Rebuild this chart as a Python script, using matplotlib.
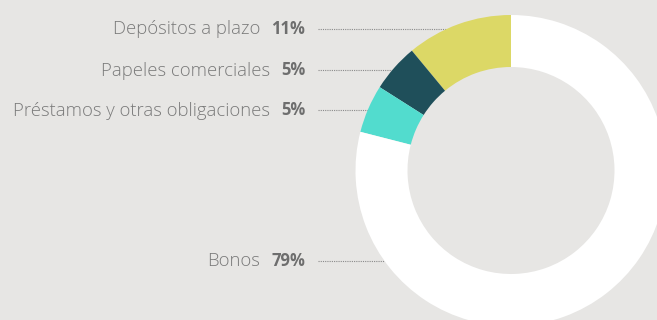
import numpy as np
import matplotlib.pyplot as plt

# Portfolio composition
categories = ["Depósitos a plazo", "Papeles comerciales",
              "Préstamos y otras obligaciones", "Bonos"]
shares = [11, 5, 5, 79]
colors = ["#dcd866", "#1f4f5a", "#52dcce", "#ffffff"]

BG = "#e7e6e4"
W, H = 657, 320

fig = plt.figure(figsize=(W / 100, H / 100), dpi=100, facecolor=BG)
ax = fig.add_axes([0, 0, 1, 1])
ax.set_facecolor(BG)

# donut in pixel coordinates (y measured upward)
cx, cy = 511, H - 170.5
r_out, ring = 155.5, 52
ax.pie(shares, colors=colors, startangle=90, counterclock=True,
       center=(cx, cy), radius=r_out,
       wedgeprops=dict(width=ring, linewidth=0))

ax.set_xlim(0, W)
ax.set_ylim(0, H)
ax.set_aspect("equal")
ax.axis("off")

# label rows (pixel rows from top)
label_rows = [29, 70, 110, 261]
text_right = 305
line_start = 318

fig.canvas.draw()
renderer = fig.canvas.get_renderer()
for name, pct, row in zip(categories, shares, label_rows):
    y = H - row
    t = ax.text(text_right, y, f"{pct}%", ha="right", va="center",
                fontsize=12, fontweight="bold", color="#6e6e6e",
                family="Open Sans")
    bb = t.get_window_extent(renderer)
    ax.text(bb.x0 - 11, y - 0.5, name, ha="right", va="center",
            fontsize=13.3, fontweight="light", color="#7a7a7a",
            family="Open Sans")
    # dotted leader to the outer edge of the ring
    dy = y - cy
    x_end = cx - np.sqrt(r_out ** 2 - dy ** 2)
    ax.plot([line_start, x_end], [y, y], color="#8a8a8a",
            linewidth=0.8, linestyle=(0, (1, 1)), zorder=0)

fig.savefig("out.png", dpi=100, facecolor=BG)
